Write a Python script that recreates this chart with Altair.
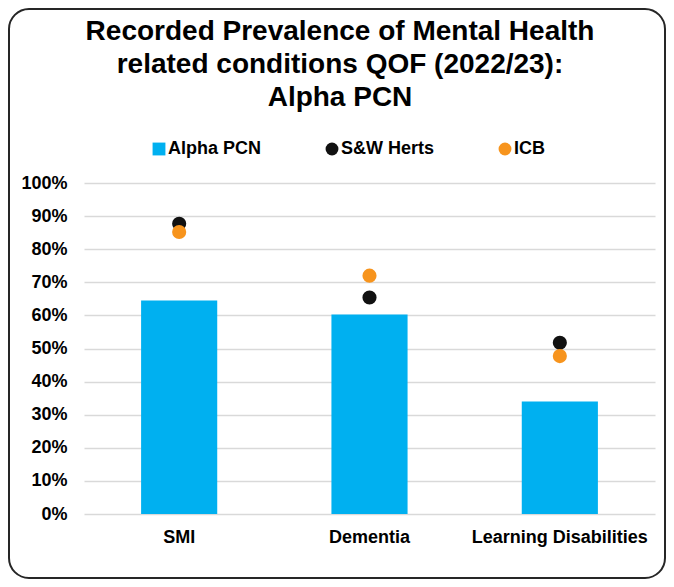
import altair as alt
import pandas as pd

categories = ["SMI", "Dementia", "Learning Disabilities"]
series_names = ["Alpha PCN", "S&W Herts", "ICB"]
series_colors = ["#00B0F0", "#111111", "#F7941D"]
series_shapes = ["square", "circle", "circle"]

alpha_pcn = [0.645, 0.603, 0.340]
sw_herts = [0.877, 0.654, 0.517]
icb = [0.852, 0.720, 0.477]

y_ticks = [0, 0.1, 0.2, 0.3, 0.4, 0.5, 0.6, 0.7, 0.8, 0.9, 1.0]
title_lines = [
    "Recorded Prevalence of Mental Health",
    "related conditions QOF (2022/23):",
    "Alpha PCN",
]

FONT = "Liberation Sans"

rows = []
for name, vals in [("Alpha PCN", alpha_pcn), ("S&W Herts", sw_herts), ("ICB", icb)]:
    for c, v in zip(categories, vals):
        rows.append({"category": c, "series": name, "value": v})
df = pd.DataFrame(rows)

W, H = 571, 331
PAD = {"left": 76, "top": 175, "right": 11, "bottom": 65}

x_enc = alt.X(
    "category:N",
    sort=categories,
    scale=alt.Scale(paddingInner=0.6, paddingOuter=0.3),
    axis=alt.Axis(
        title=None, labelAngle=0, ticks=False, tickSize=0, domain=False,
        labelFont=FONT, labelFontSize=18, labelFontWeight="bold",
        labelColor="#000000", labelPadding=14,
    ),
)
y_enc = alt.Y(
    "value:Q",
    scale=alt.Scale(domain=[0, 1]),
    axis=alt.Axis(
        title=None, values=y_ticks, format=".0%", ticks=False, tickSize=0,
        domain=False, grid=True, gridColor="#D9D9D9", gridWidth=1.5,
        labelFont=FONT, labelFontSize=18, labelFontWeight="bold",
        labelColor="#000000", labelPadding=17,
    ),
)
legend_cfg = dict(
    title=None, orient="none", direction="horizontal",
    legendX=66, legendY=-43, padding=0,
    labelFont=FONT, labelFontSize=18, labelFontWeight="bold",
    labelColor="#000000", symbolSize=165, symbolStrokeWidth=0,
    columnPadding=61, labelOffset=0,
)
color_enc = alt.Color(
    "series:N",
    scale=alt.Scale(domain=series_names, range=series_colors),
    legend=alt.Legend(**legend_cfg),
)
shape_enc = alt.Shape(
    "series:N",
    scale=alt.Scale(domain=series_names, range=series_shapes),
    legend=alt.Legend(**legend_cfg),
)

base = alt.Chart(df)

bars = base.transform_filter(alt.datum.series == "Alpha PCN").mark_bar(
    color="#00B0F0"
).encode(x=x_enc, y=y_enc, color=color_enc)

points = base.transform_filter(alt.datum.series != "Alpha PCN").mark_point(
    filled=True, opacity=1, size=200, strokeWidth=0
).encode(x=x_enc, y=y_enc, color=color_enc, shape=shape_enc)

border = alt.Chart(pd.DataFrame({"frame": [0]})).mark_rect(
    filled=False, stroke="#262626", strokeWidth=2, cornerRadius=20
).encode(
    x=alt.value(-PAD["left"] + 1), x2=alt.value(W + PAD["right"] - 1),
    y=alt.value(-PAD["top"] + 1), y2=alt.value(H + PAD["bottom"] - 1),
)

chart = alt.layer(bars, points, border).properties(
    width=W,
    height=H,
    padding=PAD,
    autosize=alt.AutoSizeParams(type="none"),
    title=alt.TitleParams(
        text=title_lines, anchor="start", align="center", frame="group",
        dx=256, dy=126, offset=0, baseline="alphabetic",
        font=FONT, fontSize=28, fontWeight="bold", color="#000000",
        lineHeight=33,
    ),
).configure(background="#FFFFFF").configure_view(stroke=None)

chart.save("out.html", embed_options={"renderer": "svg", "actions": False})
